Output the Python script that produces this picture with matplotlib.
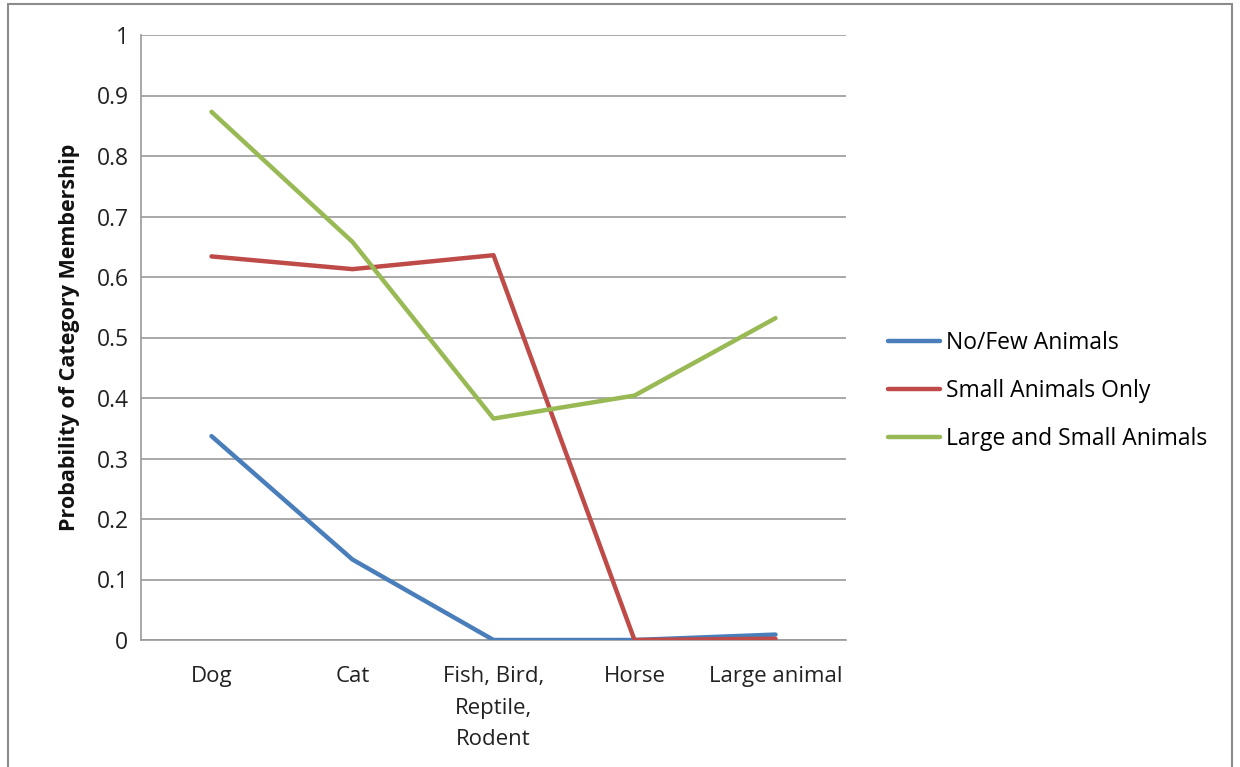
import matplotlib.pyplot as plt
from matplotlib.patches import Rectangle

plt.rcParams["font.family"] = ["Open Sans", "DejaVu Sans"]

categories = ["Dog", "Cat", "Fish, Bird,\nReptile,\nRodent", "Horse", "Large animal"]
no_few = [0.337, 0.133, 0.0, 0.0, 0.009]
small_only = [0.634, 0.613, 0.636, 0.0, 0.002]
large_small = [0.873, 0.658, 0.366, 0.404, 0.532]

series = [
    ("No/Few Animals", no_few, "#4A7EBB"),
    ("Small Animals Only", small_only, "#BE4B48"),
    ("Large and Small Animals", large_small, "#98B954"),
]

fig = plt.figure(figsize=(12.4, 7.67), dpi=100)
ax = fig.add_axes([141 / 1240, 1 - 640 / 767, 705 / 1240, 605 / 767])

x = range(len(categories))
for label, vals, color in series:
    ax.plot(x, vals, color=color, lw=3.2, label=label, solid_capstyle="round",
            solid_joinstyle="round", zorder=3)

ax.set_xlim(-0.5, len(categories) - 0.5)
ax.set_ylim(0, 1)
ax.set_yticks([i / 10 for i in range(11)])
ax.set_yticklabels(["0"] + [f"{i / 10:.1f}" for i in range(1, 10)] + ["1"])
ax.set_xticks(list(x))
ax.set_xticklabels(categories, linespacing=1.65, va="top")
ax.tick_params(axis="y", length=0, pad=9, labelsize=16.5, colors="#222222")
ax.tick_params(axis="x", length=0, pad=19, labelsize=16, colors="#222222")
ax.grid(axis="y", color="#9a9a9a", lw=1.2, zorder=0)

for side in ("top", "right"):
    ax.spines[side].set_visible(False)
for side in ("left", "bottom"):
    ax.spines[side].set_color("#9a9a9a")
    ax.spines[side].set_linewidth(1.2)

ax.set_ylabel("Probability of Category Membership", fontsize=15.5, fontweight="bold",
              labelpad=12, color="#111111")

ax.legend(loc="center left", bbox_to_anchor=(1.046, 0.4115), frameon=False,
          fontsize=16.5, handlelength=2.3, handletextpad=0.25, labelspacing=1.05,
          borderaxespad=0)

# outer frame of the chart
fig.patches.append(Rectangle((8 / 1240, -0.02), 1224 / 1240, 1.0 - 4 / 767 + 0.02,
                             transform=fig.transFigure, fill=False,
                             edgecolor="#8c8c8c", lw=1.5))

fig.savefig("out.png", dpi=100)
